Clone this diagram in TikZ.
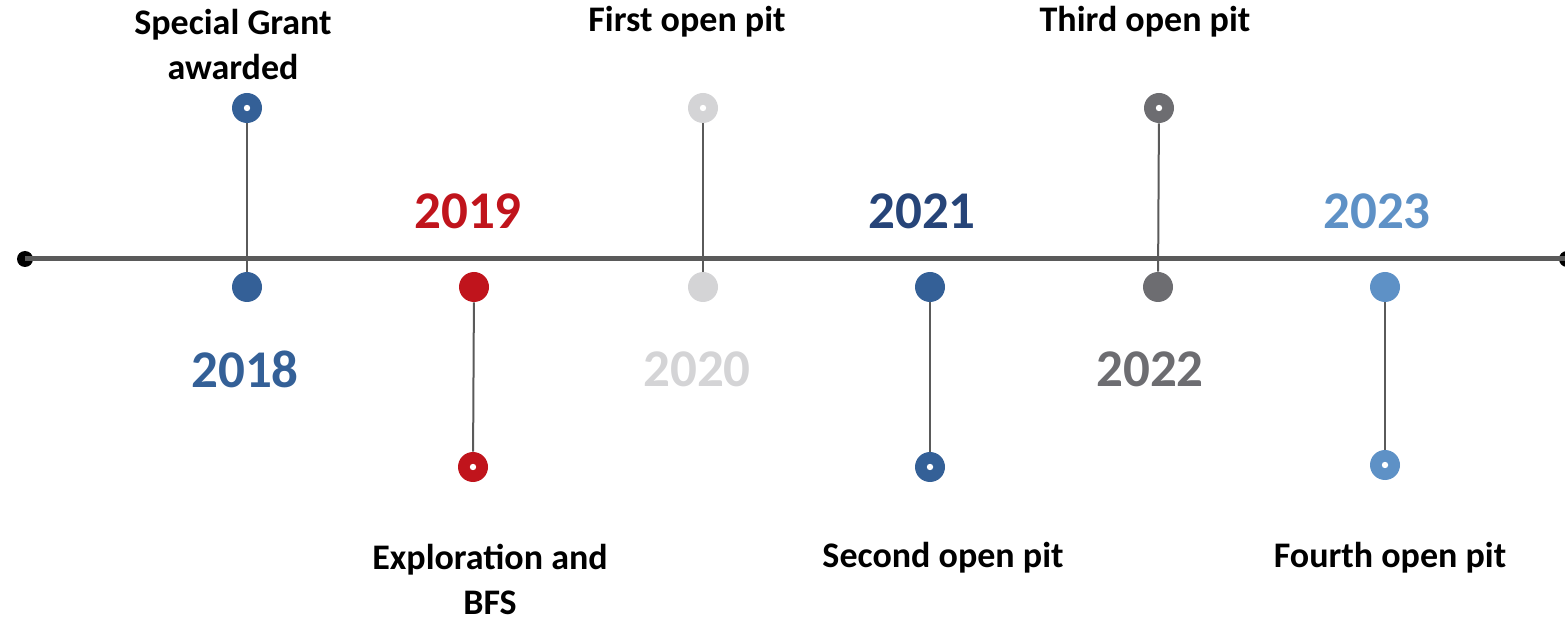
\documentclass[tikz,border=0pt]{standalone}
\usepackage{fontspec}
\setmainfont{Carlito}
\begin{document}
\definecolor{cblue}{HTML}{346097}
\definecolor{cred}{HTML}{C0141C}
\definecolor{clight}{HTML}{D4D4D6}
\definecolor{cnavy}{HTML}{264478}
\definecolor{cgray}{HTML}{6D6D71}
\definecolor{csky}{HTML}{5E91C6}
\definecolor{cline}{HTML}{5A5A5A}
\begin{tikzpicture}[x=0.5pt,y=-0.5pt,
  dot/.style={circle,fill=#1,inner sep=0pt,minimum size=15pt},
  pin/.style={circle,fill=#1,inner sep=0pt,minimum size=15pt,
    path picture={\fill[white] (path picture bounding box.center) circle (1.6pt);}},
  year/.style={font=\bfseries\fontsize{26.5}{30}\selectfont,text=#1},
  label/.style={font=\bfseries\fontsize{18}{22.5}\selectfont,align=center,text=black,inner sep=0pt},
  stem/.style={draw=cline,line width=1pt}]
\useasboundingbox (0,0) rectangle (1565,620);
% main axis
\node[circle,fill=black,inner sep=0pt,minimum size=8pt] (start) at (25,259) {};
\node[circle,fill=black,inner sep=0pt,minimum size=8pt] (end) at (1567,259) {};
\draw[draw=cline,line width=2.5pt] (start.center) -- (end.center);
% year markers under the axis
\node[dot=cblue]  (d18) at (247,287) {};
\node[dot=cred]   (d19) at (474,287) {};
\node[dot=clight] (d20) at (703,287) {};
\node[dot=cblue]  (d21) at (930,287) {};
\node[dot=cgray]  (d22) at (1158,287) {};
\node[dot=csky]   (d23) at (1385,287) {};
% event pins
\node[pin=cblue]  (p18) at (247,108) {};
\node[pin=cred]   (p19) at (473,467) {};
\node[pin=clight] (p20) at (703,108) {};
\node[pin=cblue]  (p21) at (930,467) {};
\node[pin=cgray]  (p22) at (1159,108) {};
\node[pin=csky]   (p23) at (1385,465) {};
% stems
\draw[stem] (p18) -- (d18);
\draw[stem] (d19) -- (p19);
\draw[stem] (p20) -- (d20);
\draw[stem] (d21) -- (p21);
\draw[stem] (p22) -- (d22);
\draw[stem] (d23) -- (p23);
% years
\node[year=cblue]  (y18) at (245,369) {2018};
\node[year=cred]   (y19) at (468,211) {2019};
\node[year=clight] (y20) at (697,369) {2020};
\node[year=cnavy]  (y21) at (922,211) {2021};
\node[year=cgray]  (y22) at (1150,369) {2022};
\node[year=csky]   (y23) at (1377,211) {2023};
% event labels
\node[label] (l18) at (233,45) {Special Grant\\awarded};
\node[label] (l20) at (687,22) {First open pit};
\node[label] (l22) at (1145,22) {Third open pit};
\node[label] (l19) at (490,579) {Exploration and\\BFS};
\node[label] (l21) at (943,558) {Second open pit};
\node[label] (l23) at (1390,558) {Fourth open pit};
\end{tikzpicture}
\end{document}
